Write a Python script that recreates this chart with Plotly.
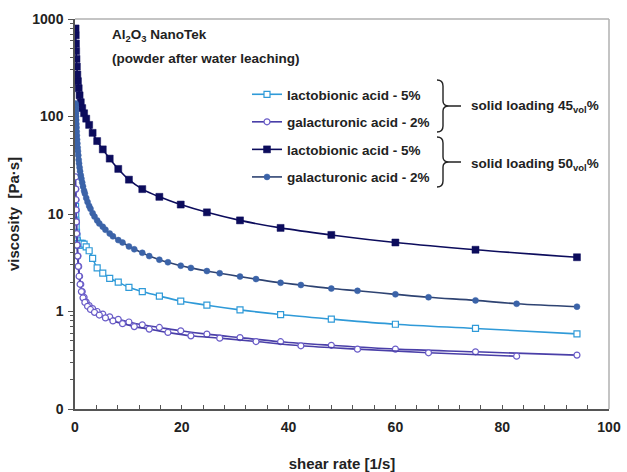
import plotly.graph_objects as go

# Shear-rate grids [1/s]; the second grid sits between the points of the first
rate_a = [0.11, 0.14, 0.18, 0.22, 0.28, 0.35, 0.44, 0.55, 0.69, 0.86, 1.08, 1.35, 1.7, 2.1,
          2.65, 3.3, 4.15, 5.2, 6.5, 8.1, 10.1, 12.6, 15.8, 19.8, 24.7, 30.9, 38.5, 48, 60, 75, 94]
rate_b = [0.125, 0.16, 0.2, 0.25, 0.31, 0.39, 0.49, 0.61, 0.76, 0.95, 1.2, 1.5, 1.85, 2.35,
          2.9, 3.65, 4.55, 5.7, 7.1, 8.9, 11.1, 13.9, 17.4, 21.7, 27.1, 33.9, 42.3, 52.9, 66.2, 82.7]

# Viscosity [Pa·s], solid loading 45 vol%
visc_lacto_45 = [12, 10, 8.5, 7.3, 6.5, 5.8, 5.3, 5.0, 4.8, 4.8, 5.0, 5.0, 4.9, 4.6, 4.2, 3.5,
                 2.8, 2.47, 2.19, 2.0, 1.77, 1.6, 1.44, 1.28, 1.16, 1.04, 0.93, 0.835, 0.74, 0.67, 0.59]
visc_galact_45_a = [24, 18, 14, 11, 8.3, 6.3, 4.8, 3.7, 2.9, 2.3, 1.9, 1.6, 1.4, 1.25, 1.15, 1.07,
                    1.0, 0.94, 0.88, 0.83, 0.78, 0.73, 0.686, 0.634, 0.586, 0.54, 0.49, 0.45, 0.411,
                    0.386, 0.357]
visc_galact_45_b = [18, 14, 11, 8.3, 6.3, 4.8, 3.7, 2.9, 2.3, 1.9, 1.6, 1.38, 1.24, 1.13, 1.05,
                    0.98, 0.92, 0.86, 0.8, 0.75, 0.70, 0.66, 0.61, 0.563, 0.533, 0.492, 0.445,
                    0.411, 0.377, 0.348]

# Viscosity [Pa·s], solid loading 50 vol%
visc_lacto_50 = [800, 680, 560, 470, 390, 325, 270, 230, 195, 165, 140, 122, 108, 95, 82, 68, 56,
                 46, 37, 29, 22.5, 18, 15, 12.5, 10.4, 8.6, 7.2, 6.1, 5.1, 4.3, 3.6]
visc_galact_50_a = [136, 124, 108, 92, 77, 64, 53, 44, 36, 30, 25, 21, 17.3, 14.6, 12.1, 10.2, 8.6,
                    7.4, 6.3, 5.4, 4.65, 4.0, 3.4, 2.95, 2.6, 2.28, 1.97, 1.72, 1.5, 1.3, 1.12]
visc_galact_50_b = [130, 116, 100, 84, 70, 58, 48, 40, 33, 27.5, 23, 19.2, 16.2, 13.3, 11.3, 9.4,
                    8.0, 6.9, 5.9, 5.1, 4.35, 3.7, 3.2, 2.8, 2.47, 2.15, 1.87, 1.63, 1.4, 1.2]

series_names = ["lactobionic acid - 5%", "galacturonic acid - 2%",
                "lactobionic acid - 5%", "galacturonic acid - 2%"]
y_tick_vals = [0.1, 1, 10, 100, 1000]
y_tick_text = ["0", "1", "10", "100", "1000"]
x_tick_vals = [0, 20, 40, 60, 80, 100]

# both grids of the 50 vol% galacturonic run lie on one curve
merged = sorted(zip(rate_a + rate_b, visc_galact_50_a + visc_galact_50_b))
rate_g50 = [p[0] for p in merged]
visc_g50 = [p[1] for p in merged]

C_LB45 = "#2f9ad8"
C_GA45 = "#4a3fa8"
C_GA45_MK = "#6a5cc8"
C_LB50 = "#0c0c5c"
C_GA50_LN = "#2e4372"
C_GA50_MK = "#3b63a8"

fig = go.Figure()
fig.add_trace(go.Scatter(
    x=rate_a, y=visc_lacto_45, name="<b>" + series_names[0] + "</b>", mode="lines+markers",
    line=dict(color=C_LB45, width=1.6, shape="spline"), legendgroup="g1",
    marker=dict(symbol="square", size=6, color="white", line=dict(color=C_LB45, width=1.2))))
fig.add_trace(go.Scatter(
    x=rate_a, y=visc_galact_45_a, name="<b>" + series_names[1] + "</b>", mode="lines+markers",
    line=dict(color=C_GA45, width=1.6, shape="spline"), legendgroup="g2",
    marker=dict(symbol="circle", size=6, color="white", line=dict(color=C_GA45_MK, width=1.2))))
fig.add_trace(go.Scatter(
    x=rate_b, y=visc_galact_45_b, name="<b>" + series_names[1] + "</b>", mode="lines+markers",
    line=dict(color=C_GA45, width=1.6, shape="spline"), legendgroup="g2", showlegend=False,
    marker=dict(symbol="circle", size=6, color="white", line=dict(color=C_GA45_MK, width=1.2))))
fig.add_trace(go.Scatter(
    x=rate_a, y=visc_lacto_50, name="<b>" + series_names[2] + "</b>", mode="lines+markers",
    line=dict(color=C_LB50, width=1.6, shape="spline"), legendgroup="g3",
    marker=dict(symbol="square", size=7, color=C_LB50, line=dict(color=C_LB50, width=0.5))))
fig.add_trace(go.Scatter(
    x=rate_g50, y=visc_g50, name="<b>" + series_names[3] + "</b>", mode="lines+markers",
    line=dict(color=C_GA50_LN, width=1.6, shape="spline"), legendgroup="g4",
    marker=dict(symbol="circle", size=6, color=C_GA50_MK, line=dict(color=C_GA50_MK, width=0.5))))

W, H = 627, 472
L, R, T, B = 75, 18, 19, 63
PW, PH = W - L - R, H - T - B


def px(xp):
    return (xp - L) / PW


def py(yp):
    return (H - B - yp) / PH


def brace(x0, y_top, y_bot, depth=6, tail=12):
    ym = (y_top + y_bot) / 2
    xa = x0 + depth
    xt = x0 + 2 * depth
    pts = [
        f"M {px(x0)},{py(y_top)}",
        f"Q {px(xa)},{py(y_top)} {px(xa)},{py(y_top + 6)}",
        f"L {px(xa)},{py(ym - 5)}",
        f"Q {px(xa)},{py(ym)} {px(xt)},{py(ym)}",
        f"Q {px(xa)},{py(ym)} {px(xa)},{py(ym + 5)}",
        f"L {px(xa)},{py(y_bot - 6)}",
        f"Q {px(xa)},{py(y_bot)} {px(x0)},{py(y_bot)}",
        f"M {px(xt)},{py(ym)} L {px(xt + tail)},{py(ym)}",
    ]
    return dict(type="path", xref="paper", yref="paper", path=" ".join(pts),
                line=dict(color="#222222", width=1.4))


shapes = [
    brace(437, 80, 132),
    brace(437, 137, 187),
    # light frame on top and right
    dict(type="line", xref="paper", yref="paper", x0=0, x1=1, y0=1, y1=1,
         line=dict(color="#b0b0b0", width=1.5)),
    dict(type="line", xref="paper", yref="paper", x0=1, x1=1, y0=0, y1=1,
         line=dict(color="#b0b0b0", width=1.5)),
]

FAMILY = "Liberation Sans, Arial, sans-serif"
txt_font = dict(family=FAMILY, size=13.5, color="#222222", weight="bold")
annotations = [
    dict(text="Al<sub>2</sub>O<sub>3</sub> NanoTek", x=px(110), y=py(36), xref="paper", yref="paper",
         xanchor="left", yanchor="middle", showarrow=False, font=txt_font),
    dict(text="(powder after water leaching)", x=px(110), y=py(59), xref="paper", yref="paper",
         xanchor="left", yanchor="middle", showarrow=False, font=txt_font),
    dict(text="solid loading 45<sub>vol</sub>%", x=px(469), y=py(107), xref="paper", yref="paper",
         xanchor="left", yanchor="middle", showarrow=False, font=txt_font),
    dict(text="solid loading 50<sub>vol</sub>%", x=px(469), y=py(164), xref="paper", yref="paper",
         xanchor="left", yanchor="middle", showarrow=False, font=txt_font),
]

axis_font = dict(family=FAMILY, size=14, color="#222222", weight="bold")
title_font = dict(family=FAMILY, size=15, color="#222222", weight="bold")

fig.update_layout(
    width=W, height=H,
    margin=dict(l=L, r=R, t=T, b=B, pad=0, autoexpand=False),
    paper_bgcolor="white", plot_bgcolor="white",
    font=dict(family=FAMILY, color="#222222"),
    showlegend=True,
    legend=dict(x=px(247), y=py(79), xanchor="left", yanchor="top", xref="paper", yref="paper",
                bgcolor="rgba(0,0,0,0)", borderwidth=0, tracegroupgap=7, itemwidth=30,
                traceorder="grouped",
                font=dict(family=FAMILY, size=13.5, color="#222222")),
    shapes=shapes,
    annotations=annotations,
    xaxis=dict(
        range=[0, 100], tickmode="array", tickvals=x_tick_vals, automargin=False,
        ticks="inside", ticklen=4, tickwidth=1, tickcolor="#555555", ticklabelstandoff=4,
        showline=True, linecolor="#555555", linewidth=1.5, showgrid=False, zeroline=False,
        tickfont=axis_font,
        minor=dict(dtick=4, ticks="inside", ticklen=4, tickcolor="#555555", showgrid=False),
        title=dict(text="shear rate [1/s]", font=title_font, standoff=25),
    ),
    yaxis=dict(
        type="log", range=[-1, 3], tickmode="array", tickvals=y_tick_vals, ticktext=y_tick_text,
        automargin=False,
        ticks="outside", ticklen=5, tickwidth=1, tickcolor="#555555", ticklabelstandoff=2,
        showline=True, linecolor="#555555", linewidth=1.5, showgrid=False, zeroline=False,
        tickfont=axis_font,
        minor=dict(dtick="D1", ticks="outside", ticklen=3, tickcolor="#555555", showgrid=False),
        title=dict(text="viscosity  [Pa·s]", font=title_font, standoff=9),
    ),
)

fig.write_html("out.html")
